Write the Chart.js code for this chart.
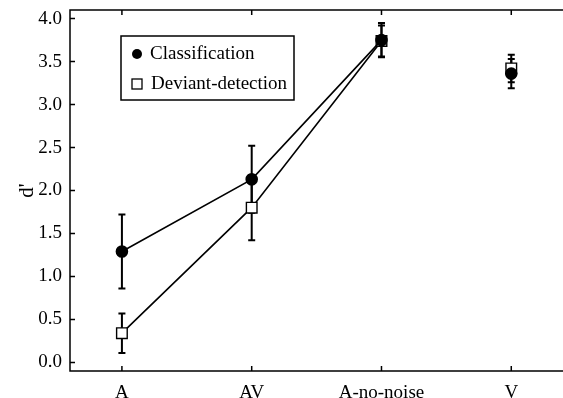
<!DOCTYPE html>
<html>
<head>
<meta charset="utf-8">
<script src="https://cdn.jsdelivr.net/npm/chart.js@4"></script>
<style>
  html, body { margin: 0; padding: 0; background: #fff; }
  #wrap { width: 563px; height: 398px; }
</style>
</head>
<body>
<div id="wrap"><canvas id="dprime"></canvas></div>
<script>
const conditions = ['A', 'AV', 'A-no-noise', 'V'];
const classification = [1.29, 2.13, 3.75, 3.36];
const classificationErr = [0.43, 0.39, 0.20, 0.17];
const deviant = [0.34, 1.80, 3.74, 3.42];
const deviantErr = [0.23, 0.38, 0.18, 0.16];
const yTicks = [0, 0.5, 1.0, 1.5, 2.0, 2.5, 3.0, 3.5, 4.0];

const serif = 'Liberation Serif';
const pts = vals => vals.map((v, i) => ({ x: i + 1, y: v }));

// V is a separate condition, so no line runs into it
const noLineToV = ctx => ctx.p1DataIndex === 3 ? 'rgba(0,0,0,0)' : '#000';

const errBars = {
  id: 'errBars',
  beforeDatasetsDraw(chart) {
    const { ctx, scales: { x, y } } = chart;
    const sets = [[classification, classificationErr], [deviant, deviantErr]];
    ctx.save();
    ctx.strokeStyle = '#000';
    ctx.lineWidth = 2;
    sets.forEach(([m, e]) => {
      m.forEach((v, i) => {
        const px = x.getPixelForValue(i + 1);
        const lo = y.getPixelForValue(v - e[i]);
        const hi = y.getPixelForValue(v + e[i]);
        ctx.beginPath();
        ctx.moveTo(px, lo); ctx.lineTo(px, hi);
        ctx.moveTo(px - 3.5, lo); ctx.lineTo(px + 3.5, lo);
        ctx.moveTo(px - 3.5, hi); ctx.lineTo(px + 3.5, hi);
        ctx.stroke();
      });
    });
    ctx.restore();
  }
};

// frame on left, bottom and top, with ticks pointing inward
const frame = {
  id: 'frame',
  afterDraw(chart) {
    const { ctx, chartArea: a, scales: { x, y } } = chart;
    ctx.save();
    ctx.strokeStyle = '#000';
    ctx.lineWidth = 1.5;
    ctx.beginPath();
    ctx.moveTo(chart.width, a.top); ctx.lineTo(a.left, a.top);
    ctx.lineTo(a.left, a.bottom); ctx.lineTo(chart.width, a.bottom);
    yTicks.forEach(t => {
      const py = y.getPixelForValue(t);
      ctx.moveTo(a.left, py); ctx.lineTo(a.left + 5, py);
    });
    conditions.forEach((c, i) => {
      const px = x.getPixelForValue(i + 1);
      ctx.moveTo(px, a.bottom); ctx.lineTo(px, a.bottom - 5);
      ctx.moveTo(px, a.top); ctx.lineTo(px, a.top + 5);
    });
    ctx.stroke();
    ctx.restore();
  }
};

const legendBox = {
  id: 'legendBox',
  afterDraw(chart) {
    const { ctx } = chart;
    ctx.save();
    ctx.strokeStyle = '#000';
    ctx.lineWidth = 1.5;
    ctx.strokeRect(121, 36, 173, 64);
    ctx.fillStyle = '#000';
    ctx.beginPath();
    ctx.arc(137, 54, 5, 0, Math.PI * 2);
    ctx.fill();
    ctx.fillStyle = '#fff';
    ctx.fillRect(132, 79, 10, 10);
    ctx.lineWidth = 1.3;
    ctx.strokeRect(132, 79, 10, 10);
    ctx.fillStyle = '#000';
    ctx.font = '19px "' + serif + '"';
    ctx.textBaseline = 'middle';
    ctx.fillText('Classification', 150, 54);
    ctx.fillText('Deviant-detection', 151, 84);
    ctx.restore();
  }
};

new Chart(document.getElementById('dprime'), {
  type: 'line',
  data: {
    datasets: [
      {
        label: 'Classification',
        data: pts(classification),
        borderColor: '#000', borderWidth: 1.6,
        pointStyle: 'circle', pointRadius: 5.5,
        pointBackgroundColor: '#000', pointBorderColor: '#000',
        segment: { borderColor: noLineToV }
      },
      {
        label: 'Deviant-detection',
        data: pts(deviant),
        borderColor: '#000', borderWidth: 1.6,
        pointStyle: 'rect', pointRadius: 7.5,
        pointBackgroundColor: '#fff', pointBorderColor: '#000', pointBorderWidth: 1.4,
        segment: { borderColor: noLineToV }
      }
    ]
  },
  options: {
    responsive: true,
    maintainAspectRatio: false,
    animation: false,
    layout: { padding: { top: 10, right: 0, left: 0, bottom: 0 } },
    plugins: { legend: { display: false }, tooltip: { enabled: false } },
    scales: {
      x: {
        type: 'linear', min: 0.6, max: 4.33,
        grid: { display: false, drawTicks: false },
        border: { display: false },
        afterBuildTicks: s => { s.ticks = conditions.map((c, i) => ({ value: i + 1 })); },
        afterFit: s => { s.height = 27; s.paddingLeft = 0; s.paddingRight = 0; },
        ticks: {
          padding: 11, color: '#000', maxRotation: 0,
          font: { family: serif, size: 19 },
          callback: v => conditions[v - 1]
        }
      },
      y: {
        min: -0.1, max: 4.1,
        grid: { display: false, drawTicks: false },
        border: { display: false },
        afterBuildTicks: s => { s.ticks = yTicks.map(v => ({ value: v })); },
        afterFit: s => { s.width = 70; s.paddingTop = 0; s.paddingBottom = 0; },
        ticks: {
          padding: 8, color: '#000',
          font: { family: serif, size: 19 },
          callback: v => v.toFixed(1)
        },
        title: {
          display: true, text: "d'", color: '#000',
          font: { family: serif, size: 21 }, padding: { top: 15, bottom: 0 }
        }
      }
    }
  },
  plugins: [errBars, frame, legendBox]
});
</script>
</body>
</html>
